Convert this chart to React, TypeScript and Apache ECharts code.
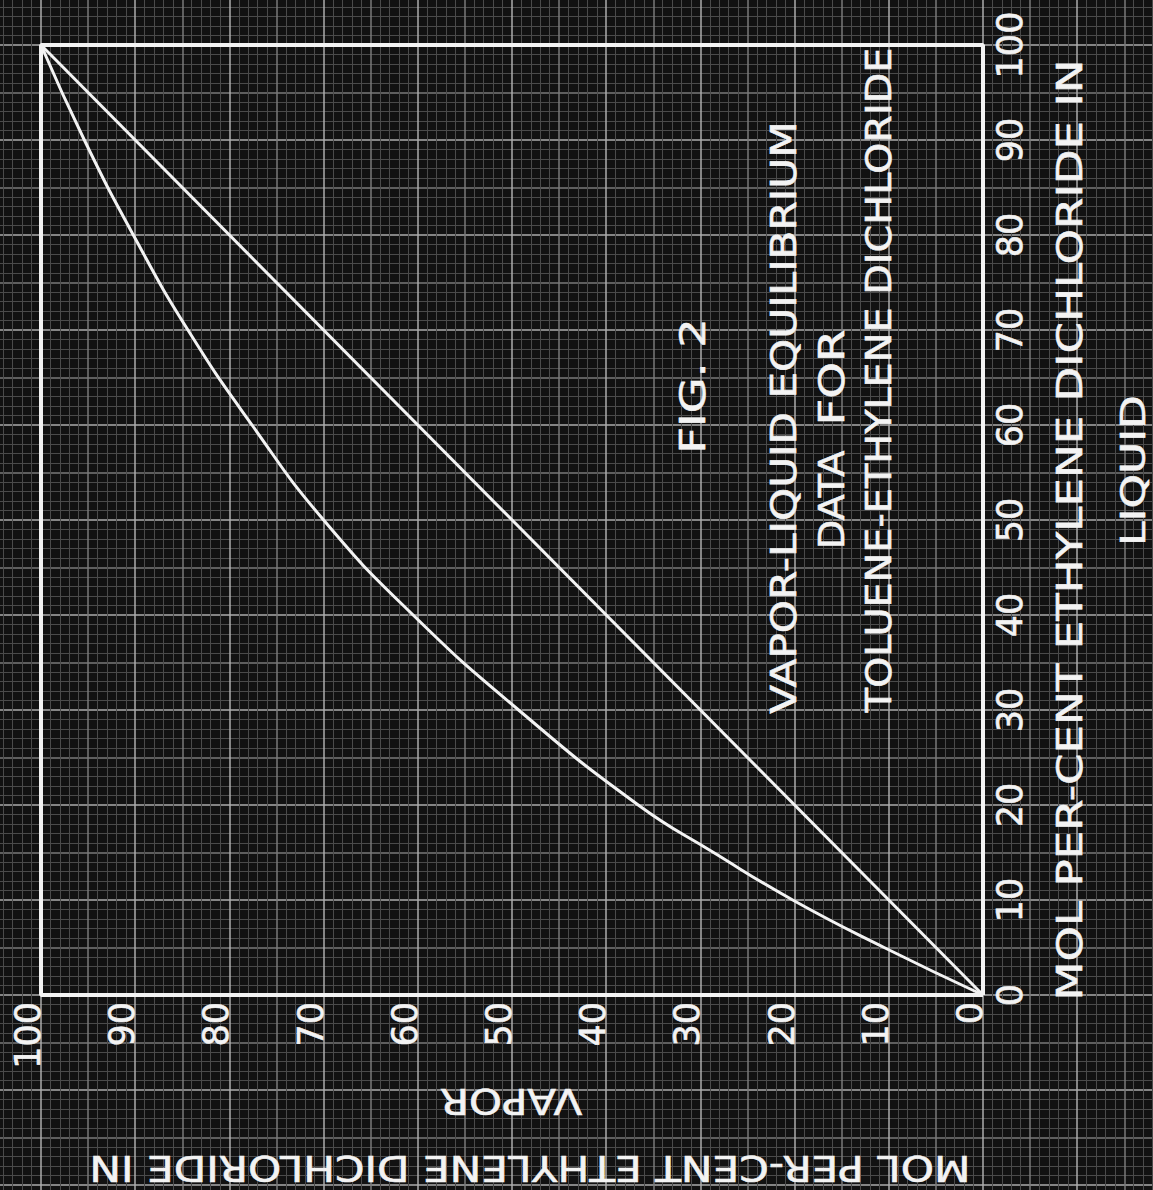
import React, { useEffect, useRef } from "react";
import * as echarts from "echarts";

// Mol per-cent ethylene dichloride in the liquid and in the equilibrium vapour
const liquidPct = [0, 5, 10, 15, 20, 30, 40, 50, 60, 70, 80, 90, 100];
const vaporPct = [0, 10.5, 20.2, 28.6, 36.6, 49.3, 60.5, 70.0, 77.6, 84.4, 90.2, 95.4, 100];
// y = x reference line
const diagonalPct = [0, 100];
// frame covers the full per-cent range on both axes
const framePct = [0, 100];
const tickStep = 10;

const INK = "#f3f3f3";
const PAPER = "#121212";
const GRID_MINOR = "#4b4b4b";
const GRID_HALF = "#7a7a7a";
const GRID_MAJOR = "#adadad";
const FONT = '"DejaVu Sans", "Liberation Sans", sans-serif';

const WIDTH = 1153;
const HEIGHT = 1190;
// pixel position of the 0 % / 0 % corner and pixels per per-cent
const ORIGIN_X = 983;
const ORIGIN_Y = 995;
const UNIT_X = 9.42;
const UNIT_Y = 9.5;
// the graph paper continues past the frame
const X_MIN = -20;
const X_MAX = 110;
const Y_MIN = -30;
const Y_MAX = 110;

type Caption = { text: string; cx: number; cy: number; len: number; turn: number; size: number };

const captions: Caption[] = [
  { text: "FIG. 2", cx: 692, cy: 386, len: 128, turn: 90, size: 36 },
  { text: "VAPOR-LIQUID EQUILIBRIUM", cx: 783.5, cy: 417.5, len: 589, turn: 90, size: 36 },
  { text: "DATA", cx: 831, cy: 500, len: 96, turn: 90, size: 36 },
  { text: "FOR", cx: 831, cy: 377.5, len: 91, turn: 90, size: 36 },
  { text: "TOLUENE-ETHYLENE DICHLORIDE", cx: 878.5, cy: 380, len: 664, turn: 90, size: 36 },
  { text: "MOL PER-CENT ETHYLENE DICHLORIDE IN", cx: 1070, cy: 530, len: 934, turn: 90, size: 36 },
  { text: "LIQUID", cx: 1133.5, cy: 470.5, len: 145, turn: 90, size: 33 },
  { text: "MOL PER-CENT ETHYLENE DICHLORIDE IN", cx: 530, cy: 1168, len: 874, turn: 180, size: 36 },
  { text: "VAPOR", cx: 511, cy: 1101.5, len: 142, turn: 180, size: 35 },
];

function inkWidth(text: string, size: number): number {
  const ctx = document.createElement("canvas").getContext("2d");
  if (!ctx) return text.length * size * 0.65;
  ctx.font = `${size}px ${FONT}`;
  const m = ctx.measureText(text);
  const ink = (m.actualBoundingBoxLeft || 0) + (m.actualBoundingBoxRight || 0);
  return ink > 0 ? ink : m.width;
}

function tickLabel(v: number): string {
  return v % tickStep === 0 ? String(v) : "";
}

const labelStyle = {
  color: INK,
  fontFamily: FONT,
  fontSize: 35,
  lineHeight: 26,
  textBorderColor: INK,
  textBorderWidth: 0.6,
  formatter: tickLabel,
};

export default function App() {
  const ref = useRef<HTMLDivElement>(null);

  useEffect(() => {
    if (!ref.current) return;
    const chart = echarts.init(ref.current, null, { renderer: "svg" });

    const [lo, hi] = framePct;
    const frame = [
      [lo, lo],
      [hi, lo],
      [hi, hi],
      [lo, hi],
      [lo, lo],
    ];

    const hidden = { show: false };

    chart.setOption({
      animation: false,
      backgroundColor: PAPER,
      grid: [
        // graph paper, reaching past the edges of the page
        {
          left: ORIGIN_X - X_MAX * UNIT_X,
          right: WIDTH - (ORIGIN_X - X_MIN * UNIT_X),
          top: ORIGIN_Y - Y_MAX * UNIT_Y,
          bottom: HEIGHT - (ORIGIN_Y - Y_MIN * UNIT_Y),
          containLabel: false,
          outerBoundsMode: "none",
        },
        // the plotted square
        {
          left: ORIGIN_X - hi * UNIT_X,
          right: WIDTH - ORIGIN_X,
          top: ORIGIN_Y - hi * UNIT_Y,
          bottom: HEIGHT - ORIGIN_Y,
          containLabel: false,
          outerBoundsMode: "none",
        },
      ],
      xAxis: [
        {
          gridIndex: 0,
          type: "value",
          min: X_MIN,
          max: X_MAX,
          interval: 5,
          inverse: true,
          axisLine: hidden,
          axisTick: hidden,
          axisLabel: hidden,
          splitLine: { show: true, lineStyle: { color: [GRID_MAJOR, GRID_HALF], width: 1.5 } },
          minorTick: { show: false, splitNumber: 5 },
          minorSplitLine: { show: true, lineStyle: { color: GRID_MINOR, width: 1 } },
        },
        {
          gridIndex: 1,
          type: "value",
          min: lo,
          max: hi,
          interval: tickStep,
          inverse: true,
          position: "bottom",
          axisLine: { show: false, onZero: false },
          axisTick: hidden,
          splitLine: hidden,
          axisLabel: { ...labelStyle, rotate: 90, margin: 7, verticalAlign: "bottom" },
        },
      ],
      yAxis: [
        {
          gridIndex: 0,
          type: "value",
          min: Y_MIN,
          max: Y_MAX,
          interval: 5,
          axisLine: hidden,
          axisTick: hidden,
          axisLabel: hidden,
          splitLine: { show: true, lineStyle: { color: [GRID_MAJOR, GRID_HALF], width: 1.5 } },
          minorTick: { show: false, splitNumber: 5 },
          minorSplitLine: { show: true, lineStyle: { color: GRID_MINOR, width: 1 } },
        },
        {
          gridIndex: 1,
          type: "value",
          min: lo,
          max: hi,
          interval: tickStep,
          position: "right",
          axisLine: { show: false, onZero: false },
          axisTick: hidden,
          splitLine: hidden,
          axisLabel: { ...labelStyle, rotate: 90, margin: 13.5 },
        },
      ],
      series: [
        {
          name: "frame",
          type: "line",
          xAxisIndex: 1,
          yAxisIndex: 1,
          data: frame,
          symbol: "none",
          clip: false,
          lineStyle: { color: INK, width: 4 },
          z: 4,
        },
        {
          name: "x = y",
          type: "line",
          xAxisIndex: 1,
          yAxisIndex: 1,
          data: diagonalPct.map((v) => [v, v]),
          symbol: "none",
          lineStyle: { color: INK, width: 3 },
          z: 3,
        },
        {
          name: "equilibrium",
          type: "line",
          xAxisIndex: 1,
          yAxisIndex: 1,
          data: liquidPct.map((l, i) => [vaporPct[i], l]),
          smooth: 0.5,
          symbol: "none",
          lineStyle: { color: INK, width: 3 },
          z: 3,
        },
      ],
      graphic: captions.map((c) => {
        const w = inkWidth(c.text, c.size);
        return {
          type: "text",
          x: c.cx,
          y: c.cy,
          rotation: (c.turn * Math.PI) / 180,
          scaleX: c.len / w,
          z: 10,
          style: {
            text: c.text,
            fill: INK,
            stroke: INK,
            lineWidth: 0.6,
            fontSize: c.size,
            fontFamily: FONT,
            align: "center",
            verticalAlign: "middle",
            textAlign: "center",
            textVerticalAlign: "middle",
          },
        };
      }),
    });

    return () => chart.dispose();
  }, []);

  return (
    <div
      ref={ref}
      style={{ position: "absolute", left: 0, top: 0, width: WIDTH, height: HEIGHT }}
    />
  );
}
